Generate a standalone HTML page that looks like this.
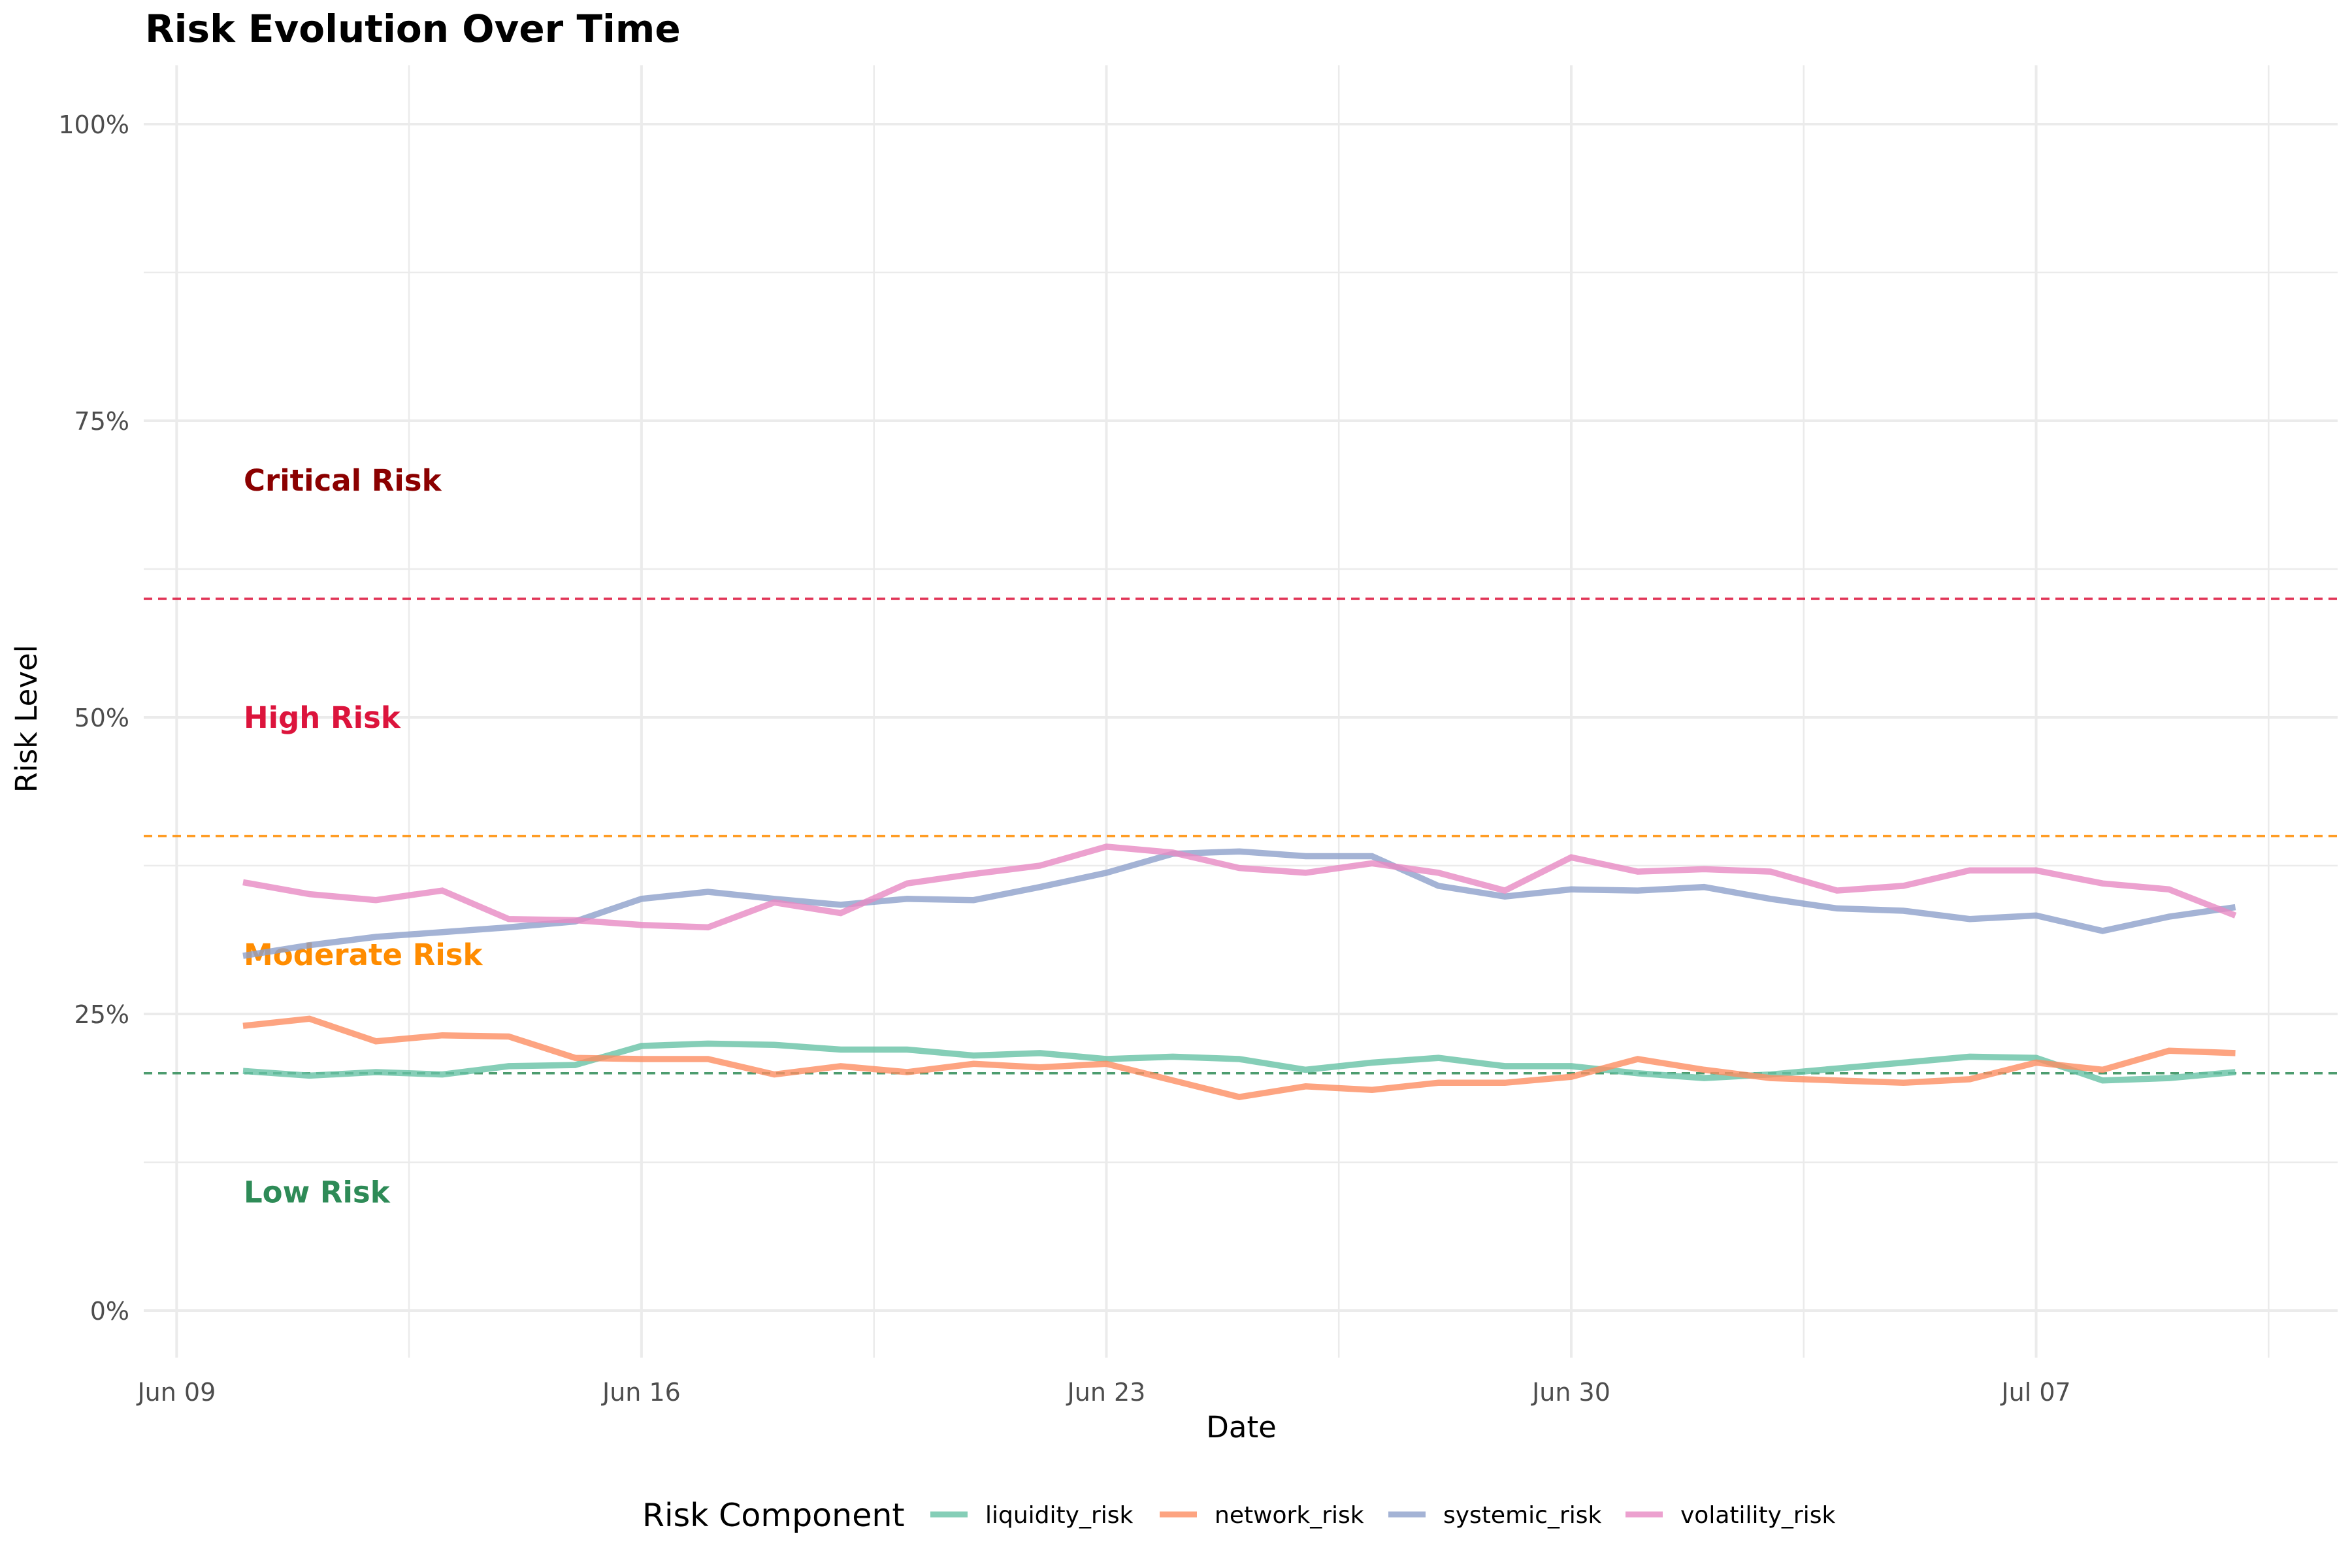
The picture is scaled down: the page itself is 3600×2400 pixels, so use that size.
<!DOCTYPE html>
<html><head><meta charset="utf-8"><style>
html,body{margin:0;padding:0;background:#fff;}
svg{display:block;font-family:"DejaVu Sans","Liberation Sans",sans-serif;}
</style></head><body>
<svg id="chart" width="3600" height="2400" viewBox="0 0 3600 2400" xmlns="http://www.w3.org/2000/svg">
<rect width="3600" height="2400" fill="#fff"/>
<g id="grid"></g>
<g id="refs"></g>
<g id="series"></g>
<g id="axes"></g>
<text x="222" y="64" font-size="58" font-weight="bold" fill="#000">Risk Evolution Over Time</text>
<text x="1900" y="2200" font-size="45" text-anchor="middle" fill="#000">Date</text>
<text transform="translate(56,1100) rotate(-90)" font-size="45" text-anchor="middle" fill="#000">Risk Level</text>
<g id="legend"></g>
</svg>
<script>
const dayCount = 31; // Jun 10 .. Jul 10
const categories = ["liquidity_risk","network_risk","systemic_risk","volatility_risk"];
const liquidity = [20.2,19.8,20.1,19.9,20.6,20.7,22.3,22.5,22.4,22.0,22.0,21.5,21.7,21.2,21.4,21.2,20.3,20.9,21.3,20.6,20.6,20.0,19.6,19.9,20.4,20.9,21.4,21.3,19.4,19.6,20.1];
const network = [24.0,24.6,22.7,23.2,23.1,21.3,21.2,21.2,19.9,20.6,20.1,20.8,20.5,20.8,19.4,18.0,18.9,18.6,19.2,19.2,19.7,21.2,20.3,19.6,19.4,19.2,19.5,20.9,20.3,21.9,21.7];
const systemic = [29.9,30.8,31.5,31.9,32.3,32.8,34.7,35.3,34.7,34.2,34.7,34.6,35.7,36.9,38.5,38.7,38.3,38.3,35.8,34.9,35.5,35.4,35.7,34.7,33.9,33.7,33.0,33.3,32.0,33.2,34.0];
const volatility = [36.1,35.1,34.6,35.4,33.0,32.9,32.5,32.3,34.4,33.5,36.0,36.8,37.5,39.1,38.6,37.3,36.9,37.7,36.9,35.4,38.2,37.0,37.2,37.0,35.4,35.8,37.1,37.1,36.0,35.5,33.3];
const yTicks = [0,25,50,75,100];
const yTickLabels = ["0%","25%","50%","75%","100%"];
const xTickDays = [-1,6,13,20,27];
const xTickLabels = ["Jun 09","Jun 16","Jun 23","Jun 30","Jul 07"];
const thresholds = [60,40,20];
const zoneLabels = ["Critical Risk","High Risk","Moderate Risk","Low Risk"];
const zoneValues = [70,50,30,10];

const NS="http://www.w3.org/2000/svg";
const colors=["#66c2a5","#fc8d62","#8da0cb","#e78ac3"];
const thrColors=["#DC143C","#FF8C00","#2E8B57"];
const zoneColors=["#8B0000","#DC143C","#FF8C00","#2E8B57"];
const X0=372, DX=101.65; // day 0 (Jun 10)
const xs=d=>X0+DX*d;
const ys=v=>2006-18.16*v;
const L=220,R=3578,T=100,B=2078;
function mk(tag,attrs,parent){const e=document.createElementNS(NS,tag);for(const k in attrs)e.setAttribute(k,attrs[k]);parent.appendChild(e);return e;}
const grid=document.getElementById('grid');
for(let v=-12.5;v<=105;v+=12.5){const y=ys(v);if(y<T||y>B)continue;const major=(v%25===0);
 const l=mk('line',{x1:L,x2:R,y1:y,y2:y,stroke:'#ebebeb','stroke-width':major?4:2.5},grid);
 
 }
for(let d=-1;d<=31;d+=3.5){const x=xs(d);const major=Number.isInteger((d+1)/7);
 const l=mk('line',{x1:x,x2:x,y1:T,y2:B,stroke:'#ebebeb','stroke-width':major?4:2.5},grid);
 
 }
const refs=document.getElementById('refs');
thresholds.forEach((t,i)=>{const l=mk('line',{x1:L,x2:R,y1:ys(t),y2:ys(t),stroke:thrColors[i],'stroke-width':3.5,'stroke-dasharray':'13,9',opacity:0.85},refs);
 
 });
const ser=document.getElementById('series');
[liquidity,network,systemic,volatility].forEach((arr,i)=>{
 const pts=arr.map((v,d)=>xs(d).toFixed(1)+','+ys(v).toFixed(1)).join(' ');
 const p=mk('polyline',{points:pts,fill:'none',stroke:colors[i],'stroke-width':9.5,'stroke-opacity':0.8,'stroke-linejoin':'miter'},ser);
 
 });
zoneLabels.forEach((s,i)=>{const t=mk('text',{x:373,y:ys(zoneValues[i])+16,'font-size':45,'font-weight':'bold',fill:zoneColors[i]},refs);
 t.textContent=s;
 
 });
const axes=document.getElementById('axes');
yTicks.forEach((v,i)=>{const t=mk('text',{x:198,y:ys(v)+14,'font-size':38,'text-anchor':'end',fill:'#4d4d4d'},axes);
 t.textContent=yTickLabels[i];
 
 });
xTickDays.forEach((d,i)=>{const t=mk('text',{x:xs(d),y:2144,'font-size':38,'text-anchor':'middle',fill:'#4d4d4d'},axes);
 t.textContent=xTickLabels[i];
 
 });
const lg=document.getElementById('legend');
const lt=mk('text',{x:983,y:2336,'font-size':49,fill:'#000'},lg);
lt.textContent='Risk Component';


const keyX=[1424,1775,2125,2488];
categories.forEach((c,i)=>{
 const k=mk('line',{x1:keyX[i],x2:keyX[i]+57,y1:2318,y2:2318,stroke:colors[i],'stroke-width':9,'stroke-opacity':0.8},lg);
 
 
 const t=mk('text',{x:keyX[i]+84,y:2331,'font-size':36,fill:'#000'},lg);
 t.textContent=c;
 
 });
</script>
</body></html>
